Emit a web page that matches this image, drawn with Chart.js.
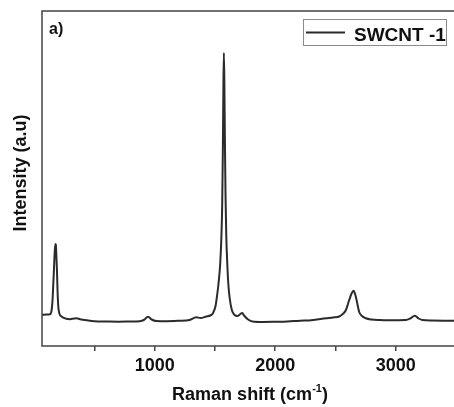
<!DOCTYPE html>
<html>
<head>
<meta charset="utf-8">
<script src="https://cdn.jsdelivr.net/npm/chart.js@4.4.1/dist/chart.umd.min.js"></script>
<style>
  html, body { margin: 0; padding: 0; background: #ffffff; overflow: hidden; }
  #wrap { width: 454px; height: 407px; overflow: hidden; }
</style>
</head>
<body>
<div id="wrap"><canvas id="grafico" width="460" height="407"></canvas></div>
<script>
// dados (deslocamento Raman em cm-1 e intensidade em unidades arbitrárias)
const ramanShift = [
  65, 100, 131, 145, 152, 158, 164, 170, 176, 180, 185, 189, 194, 200, 208, 228, 260, 300, 330, 352,
  380, 448, 500, 600, 700, 800, 876, 910, 945, 975, 1014, 1100, 1200, 1290, 1345, 1380, 1428, 1460, 1483, 1505,
  1516, 1530, 1544, 1553, 1560, 1566, 1570, 1574, 1578, 1583, 1588, 1594, 1602, 1611, 1621, 1640, 1662, 1690, 1710, 1726,
  1745, 1775, 1811, 1900, 2000, 2100, 2205, 2300, 2422, 2480, 2531, 2560, 2587, 2614, 2632, 2650, 2665, 2675, 2697, 2720,
  2752, 2800, 2863, 2950, 3084, 3120, 3158, 3190, 3221, 3300, 3400, 3500
];
const intensidade = [
  31, 31.5, 31.7, 36, 45, 60, 76, 93, 102, 101, 88, 76, 55, 40, 33, 29.5, 27.5, 26.8, 27.5, 27.8,
  26.8, 25.5, 24.8, 24.5, 24.3, 24.5, 24.8, 26, 29.3, 26.5, 25, 24.8, 25.2, 26, 28.7, 28, 29.5, 30.5, 32.7, 40,
  49, 63, 83, 108, 140, 200, 260, 293, 265, 200, 149, 110, 83, 62, 49, 36, 31, 30, 32, 33,
  30, 26.5, 24.5, 24, 24.2, 24.5, 25.3, 25.8, 27.7, 28.5, 29.5, 32, 36, 46, 52, 55.3, 51, 46, 34, 30,
  27.7, 26.5, 26, 25.8, 26, 27.5, 30.3, 27.5, 26, 25.5, 25.3, 25.2
];
const ticksX = [500, 1000, 1500, 2000, 2500, 3000, 3500];
const rotuloSerie = 'SWCNT -1';
const rotuloPainel = 'a)';
const tituloY = 'Intensity (a.u)';

const fonte = "'Liberation Sans', Arial, sans-serif";
const corLinha = '#2b2b2b';
const corEixo = '#444444';

// desenha moldura, títulos, legenda e rótulo do painel
const pluginExtras = {
  id: 'extras',
  afterDraw(chart) {
    const ctx = chart.ctx;
    const area = chart.chartArea;
    ctx.save();

    // moldura da área do gráfico
    ctx.strokeStyle = corEixo;
    ctx.lineWidth = 1.5;
    ctx.strokeRect(area.left, area.top, area.right - area.left, area.bottom - area.top);

    // rótulo do painel
    ctx.fillStyle = '#111';
    ctx.font = 'bold 16px ' + fonte;
    ctx.textBaseline = 'alphabetic';
    ctx.textAlign = 'left';
    ctx.fillText(rotuloPainel, 49, 34);

    // legenda
    ctx.strokeStyle = '#8a8a8a';
    ctx.lineWidth = 1;
    ctx.strokeRect(303.5, 19.5, 143, 26);
    ctx.strokeStyle = corLinha;
    ctx.lineWidth = 2;
    ctx.beginPath();
    ctx.moveTo(306, 32.5);
    ctx.lineTo(345, 32.5);
    ctx.stroke();
    ctx.font = 'bold 19px ' + fonte;
    ctx.fillText(rotuloSerie, 354, 40.5);

    // título do eixo x com sobrescrito
    const parte1 = 'Raman shift (cm';
    const sobrescrito = '-1';
    const parte2 = ')';
    ctx.font = 'bold 18px ' + fonte;
    const w1 = ctx.measureText(parte1).width;
    const w3 = ctx.measureText(parte2).width;
    ctx.font = 'bold 11px ' + fonte;
    const w2 = ctx.measureText(sobrescrito).width;
    let x = 250 - (w1 + w2 + w3) / 2;
    ctx.font = 'bold 18px ' + fonte;
    ctx.fillText(parte1, x, 400);
    x += w1;
    ctx.font = 'bold 11px ' + fonte;
    ctx.fillText(sobrescrito, x, 392);
    x += w2;
    ctx.font = 'bold 18px ' + fonte;
    ctx.fillText(parte2, x, 400);

    // título do eixo y
    ctx.translate(21, 173);
    ctx.rotate(-Math.PI / 2);
    ctx.textAlign = 'center';
    ctx.textBaseline = 'middle';
    ctx.fillText(tituloY, 0, 0);

    ctx.restore();
  }
};

new Chart(document.getElementById('grafico').getContext('2d'), {
  type: 'line',
  data: {
    datasets: [{
      label: rotuloSerie,
      data: ramanShift.map((v, i) => ({ x: v, y: intensidade[i] })),
      borderColor: corLinha,
      borderWidth: 2,
      pointRadius: 0,
      fill: false,
      cubicInterpolationMode: 'monotone'
    }]
  },
  options: {
    responsive: false,
    animation: false,
    devicePixelRatio: 1,
    layout: { padding: { top: 11, right: 3, left: 0, bottom: 0 } },
    plugins: { legend: { display: false }, tooltip: { enabled: false } },
    scales: {
      x: {
        type: 'linear',
        min: 65,
        max: 3500,
        afterFit: (scale) => { scale.height = 61; },
        afterBuildTicks: (scale) => { scale.ticks = ticksX.map(v => ({ value: v })); },
        border: { display: false },
        grid: { display: true, drawOnChartArea: false, drawTicks: true, tickLength: 5, color: corEixo, lineWidth: 1.5 },
        ticks: {
          color: '#111',
          font: { family: fonte, size: 18, weight: 'bold' },
          padding: 4,
          maxRotation: 0,
          autoSkip: false,
          callback: (v) => (v % 1000 === 0 ? String(v) : '')
        }
      },
      y: {
        min: 0,
        max: 335,
        afterFit: (scale) => { scale.width = 42; },
        border: { display: false },
        grid: { display: false },
        ticks: { display: false }
      }
    }
  },
  plugins: [pluginExtras]
});
</script>
</body>
</html>
